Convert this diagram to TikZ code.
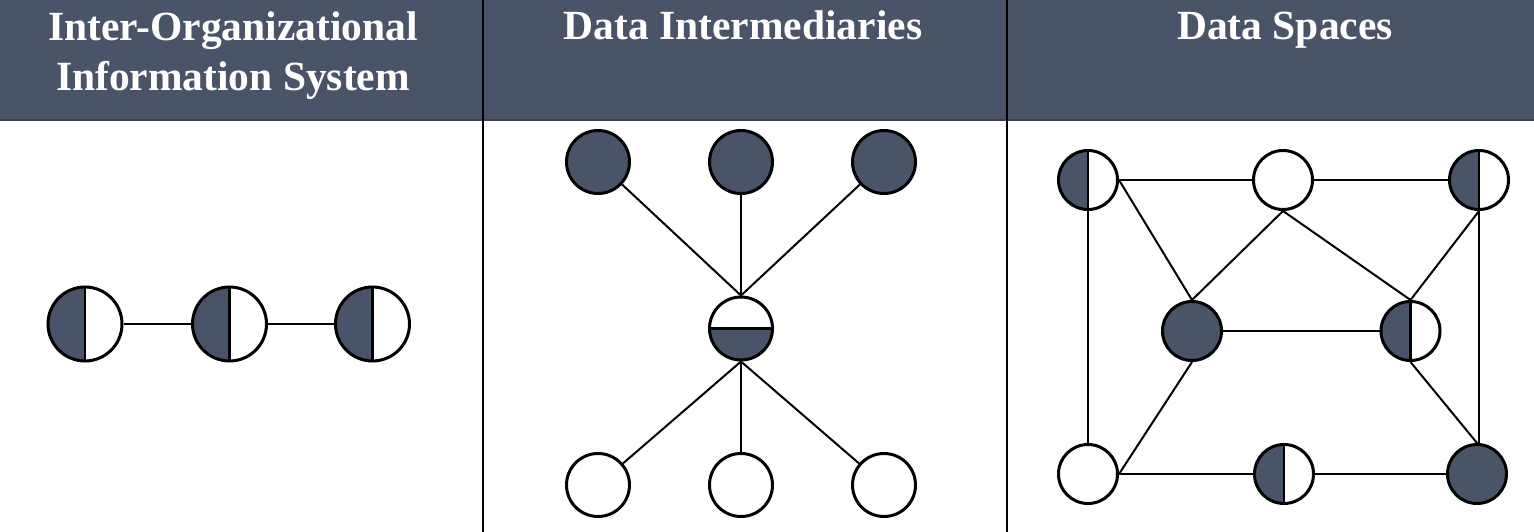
\documentclass[tikz,border=0pt]{standalone}
\usepackage{fontspec}
\setmainfont{Liberation Serif}
\definecolor{slate}{HTML}{4A5468}
\begin{document}
\begin{tikzpicture}[x=1pt,y=-1pt,
  head/.style={text=white, font=\fontsize{41.5}{50}\selectfont\bfseries,
    align=center, inner sep=0pt, anchor=base},
  nd/.style={circle, draw=black, line width=3pt, fill=white, inner sep=0pt},
  big/.style={nd, minimum size=74pt},
  med/.style={nd, minimum size=63pt},
  sml/.style={nd, minimum size=59pt},
  full/.style={fill=slate},
  lefthalf/.style={path picture={
      \fill[slate] (path picture bounding box.south west) rectangle (path picture bounding box.north);
      \draw[line width=2.5pt] (path picture bounding box.north) -- (path picture bounding box.south);}},
  lowerhalf/.style={path picture={
      \fill[slate] (path picture bounding box.west) rectangle (path picture bounding box.south east);
      \draw[line width=2.5pt] (path picture bounding box.west) -- (path picture bounding box.east);}},
  link/.style={line width=2pt},
  rule/.style={line width=2.5pt}
]
\useasboundingbox (0,0) rectangle (1534,532);

% header band and column rules
\fill[slate] (0,0) rectangle (1534,120);
\draw[line width=2pt, black!75] (0,120.5) -- (1534,120.5);
\draw[rule] (483,0) -- (483,532);
\draw[rule] (1007,0) -- (1007,532);

% column titles (the base anchor sits on the last line)
\node[head] (h1) at (233,91) {Inter-Organizational\\Information System};
\node[head] (h2) at (743,40) {Data Intermediaries};
\node[head] (h3) at (1285,40) {Data Spaces};

% inter-organizational information system: a chain
\node[big, lefthalf] (a1) at (85,324) {};
\node[big, lefthalf] (a2) at (229.5,324) {};
\node[big, lefthalf] (a3) at (372.5,324) {};
\draw[link] (a1) -- (a2);
\draw[link] (a2) -- (a3);

% data intermediaries: a hub
\node[med, lowerhalf] (hub) at (741,328.5) {};
\node[med, full] (t1) at (598,162) {};
\node[med, full] (t2) at (741,162) {};
\node[med, full] (t3) at (884,162) {};
\node[med] (b1) at (598,485) {};
\node[med] (b2) at (741,485) {};
\node[med] (b3) at (884,485) {};
\foreach \n in {t1,t2,t3} \draw[link] (\n) -- (hub.north);
\foreach \n in {b1,b2,b3} \draw[link] (\n) -- (hub.south);

% data spaces: a mesh
\node[sml, lefthalf] (tl) at (1088,180) {};
\node[sml] (tm) at (1283,180) {};
\node[sml, lefthalf] (tr) at (1479,180) {};
\node[sml, full] (ml) at (1192,331) {};
\node[sml, lefthalf] (mr) at (1410.5,331) {};
\node[sml] (bl) at (1088,474) {};
\node[sml, lefthalf] (bm) at (1284,474) {};
\node[sml, full] (br) at (1477,474) {};

\draw[link] (tl.east) -- (tm.west);
\draw[link] (tm.east) -- (tr.west);
\draw[link] (tl.south) -- (bl.north);
\draw[link] (tr.south) -- (br.north -| tr.south);
\draw[link] (tl.east) -- (ml.north);
\draw[link] (tm.south) -- (ml.north);
\draw[link] (tm.south) -- (mr.north);
\draw[link] (tr.south) -- (mr.north);
\draw[link] (ml.east) -- (mr.west);
\draw[link] (ml.south) -- (bl.east);
\draw[link] (mr.south) -- (br.north);
\draw[link] (bl.east) -- (bm.west);
\draw[link] (bm.east) -- (br.west);
\end{tikzpicture}
\end{document}
